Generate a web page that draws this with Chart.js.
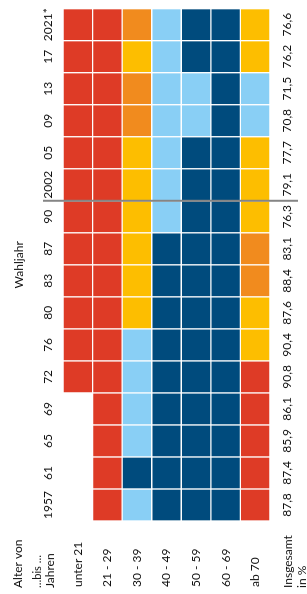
<!DOCTYPE html>
<html lang="de">
<head>
    <meta charset="UTF-8">
    <title>Wahlbeteiligung nach Alter</title>
    <style>
        body {
            margin: 0;
            background: #fff;
            overflow: hidden;
        }

        /* chart is drawn landscape and turned by -90deg */
        .wrap {
            position: absolute;
            left: 0;
            top: 0;
            width: 594px;
            height: 307px;
            transform-origin: 0 0;
            transform: translate(0, 594px) rotate(-90deg);
        }
    </style>
    <script src="https://cdn.jsdelivr.net/npm/chart.js"></script>
</head>
<body>
    <div class="wrap">
        <canvas id="turnoutChart" width="594" height="307"></canvas>
    </div>

    <script>
        const years = ['1957', '61', '65', '69', '72', '76', '80', '83', '87', '90', '2002', '05', '09', '13', '17', '2021*'];
        const ageGroups = ['unter 21', '21 - 29', '30 - 39', '40 - 49', '50 - 59', '60 - 69', 'ab 70'];
        const totals = [87.8, 87.4, 85.9, 86.1, 90.8, 90.4, 87.6, 88.4, 83.1, 76.3, 79.1, 77.7, 70.8, 71.5, 76.2, 76.6];

        // class per cell, one array per age group (R = far below ... D = far above)
        const under21 = [null, null, null, null, 'R', 'R', 'R', 'R', 'R', 'R', 'R', 'R', 'R', 'R', 'R', 'R'];
        const age21to29 = ['R', 'R', 'R', 'R', 'R', 'R', 'R', 'R', 'R', 'R', 'R', 'R', 'R', 'R', 'R', 'R'];
        const age30to39 = ['L', 'D', 'L', 'L', 'L', 'L', 'Y', 'Y', 'Y', 'Y', 'Y', 'Y', 'O', 'O', 'Y', 'O'];
        const age40to49 = ['D', 'D', 'D', 'D', 'D', 'D', 'D', 'D', 'D', 'L', 'L', 'L', 'L', 'L', 'L', 'L'];
        const age50to59 = ['D', 'D', 'D', 'D', 'D', 'D', 'D', 'D', 'D', 'D', 'D', 'D', 'L', 'L', 'D', 'D'];
        const age60to69 = ['D', 'D', 'D', 'D', 'D', 'D', 'D', 'D', 'D', 'D', 'D', 'D', 'D', 'D', 'D', 'D'];
        const age70plus = ['R', 'R', 'R', 'R', 'R', 'Y', 'Y', 'O', 'O', 'Y', 'Y', 'Y', 'L', 'L', 'Y', 'Y'];

        const cellClasses = [under21, age21to29, age30to39, age40to49, age50to59, age60to69, age70plus];

        const palette = {
            R: '#de3b26',
            O: '#f18b1e',
            Y: '#fdbe00',
            L: '#89cff5',
            D: '#004b7d'
        };

        const textColor = '#111111';
        const baseFont = 'Lato, "Noto Sans", sans-serif';

        // one floating bar per cell: age group i covers [i, i + 1]
        const datasets = cellClasses.map((row, i) => ({
            label: ageGroups[i],
            data: row.map(c => (c ? [i, i + 1] : null)),
            backgroundColor: row.map(c => (c ? palette[c] : 'transparent')),
            borderColor: '#ffffff',
            borderWidth: 1,
            borderSkipped: false,
            barPercentage: 1,
            categoryPercentage: 1,
            grouped: false
        }));

        // gray line between 1990 and 2002, plus the corner texts
        const extrasPlugin = {
            id: 'extras',
            afterDatasetsDraw(chart) {
                const ctx = chart.ctx;
                const x = chart.scales.x;
                const sepX = (x.getPixelForValue(years.indexOf('90')) + x.getPixelForValue(years.indexOf('2002'))) / 2;

                ctx.save();
                ctx.strokeStyle = '#858585';
                ctx.lineWidth = 2;
                ctx.beginPath();
                ctx.moveTo(sepX, 43);
                ctx.lineTo(sepX, 298);
                ctx.stroke();

                ctx.fillStyle = textColor;
                ctx.textAlign = 'left';
                ctx.textBaseline = 'alphabetic';
                ctx.font = '12px ' + baseFont;
                ctx.fillText('Alter von', 6, 22);
                ctx.font = '11px ' + baseFont;
                ctx.fillText('…bis …', 6, 41);
                ctx.font = '12px ' + baseFont;
                ctx.fillText('Jahren', 6, 54);
                ctx.fillText('Insgesamt', 6, 292);
                ctx.fillText('in %', 6, 306);
                ctx.restore();
            }
        };

        new Chart(document.getElementById('turnoutChart').getContext('2d'), {
            type: 'bar',
            data: {
                labels: years,
                datasets: datasets
            },
            options: {
                responsive: false,
                animation: false,
                layout: {
                    padding: { left: 7, right: 6, top: 0, bottom: 0 }
                },
                plugins: {
                    legend: { display: false },
                    tooltip: { enabled: false }
                },
                scales: {
                    x: {
                        type: 'category',
                        position: 'top',
                        offset: true,
                        grid: { display: false, drawTicks: false },
                        border: { display: false },
                        ticks: {
                            color: textColor,
                            font: { family: baseFont, size: 12 },
                            padding: 8,
                            autoSkip: false,
                            maxRotation: 0
                        },
                        title: {
                            display: true,
                            text: 'Wahljahr',
                            color: textColor,
                            font: { family: baseFont, size: 12 },
                            padding: { top: 12, bottom: 0 }
                        },
                        afterFit(scale) { scale.height = 63; }
                    },
                    x2: {
                        type: 'category',
                        position: 'bottom',
                        labels: totals.map(v => v.toFixed(1).replace('.', ',')),
                        offset: true,
                        grid: { display: false, drawTicks: false },
                        border: { display: false },
                        ticks: {
                            color: textColor,
                            font: { family: baseFont, size: 12 },
                            padding: 10,
                            autoSkip: false,
                            maxRotation: 0
                        },
                        afterFit(scale) { scale.height = 37; }
                    },
                    y: {
                        type: 'linear',
                        min: 0,
                        max: ageGroups.length,
                        reverse: true,
                        grid: { display: false, drawTicks: false },
                        border: { display: false },
                        afterBuildTicks(scale) {
                            scale.ticks = ageGroups.map((_, i) => ({ value: i + 0.5 }));
                        },
                        ticks: {
                            color: textColor,
                            font: { family: baseFont, size: 12 },
                            crossAlign: 'far',
                            callback: (value, index) => ageGroups[index]
                        },
                        afterFit(scale) { scale.width = 66; }
                    }
                }
            },
            plugins: [extrasPlugin]
        });
    </script>
</body>
</html>
